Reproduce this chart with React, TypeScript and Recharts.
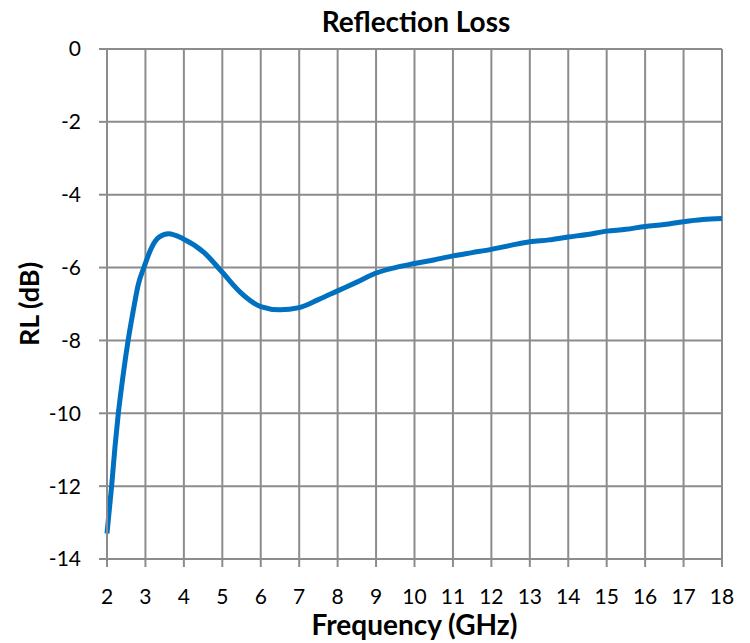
import { LineChart, Line, XAxis, YAxis, CartesianGrid, Label } from "recharts";

// Frequency (GHz) and reflection loss (dB)
const freq = [2.0, 2.12, 2.21, 2.29, 2.42, 2.55, 2.68, 2.81, 2.97, 3.16, 3.35, 3.6, 4.0, 4.52, 5.0, 5.47, 6.0, 6.5, 7.0, 7.5, 8.0, 8.5, 9.0, 9.5, 10.0, 10.5, 11.0, 11.5, 12.0, 12.5, 13.0, 13.5, 14.0, 14.5, 15.0, 15.5, 16.0, 16.5, 17.0, 17.5, 18.0];
const rl = [-13.3, -12.0, -10.9, -10.05, -8.95, -8.0, -7.2, -6.48, -5.97, -5.45, -5.17, -5.07, -5.22, -5.58, -6.13, -6.68, -7.07, -7.16, -7.1, -6.88, -6.64, -6.4, -6.15, -6.0, -5.89, -5.79, -5.68, -5.59, -5.5, -5.39, -5.29, -5.24, -5.16, -5.09, -5.0, -4.95, -4.87, -4.82, -4.74, -4.68, -4.65];

const xTicks = [2, 3, 4, 5, 6, 7, 8, 9, 10, 11, 12, 13, 14, 15, 16, 17, 18];
const yTicks = [0, -2, -4, -6, -8, -10, -12, -14];

const data = freq.map((f, i) => ({ f, rl: rl[i] }));

const font = "Lato, 'Open Sans', sans-serif";
const gridColor = "#8c8c8c";

export default function App() {
  return (
    <div style={{ position: "absolute", left: 0, top: 0, width: 750, height: 643, background: "#fff", fontFamily: font }}>
      <div style={{ position: "absolute", left: 0, width: 832, top: 7, lineHeight: "29px", textAlign: "center", fontWeight: "bold", fontSize: 28, color: "#000" }}>
        Reflection Loss
      </div>
      <LineChart
        width={750}
        height={643}
        data={data}
        margin={{ top: 49, right: 28, left: 47, bottom: 44 }}
      >
        <CartesianGrid stroke={gridColor} strokeWidth={2} />
        <XAxis
          dataKey="f"
          type="number"
          domain={[2, 18]}
          ticks={xTicks}
          interval={0}
          height={40}
          stroke={gridColor}
          strokeWidth={2}
          tickSize={8}
          tickMargin={22}
          tick={{ fill: "#000", fontSize: 21, fontFamily: font }}
        >
          <Label
            value="Frequency (GHz)"
            position="insideBottom"
            offset={-36}
            style={{ fill: "#000", fontSize: 28, fontWeight: "bold", fontFamily: font }}
          />
        </XAxis>
        <YAxis
          type="number"
          domain={[-14, 0]}
          ticks={yTicks}
          interval={0}
          width={60}
          stroke={gridColor}
          strokeWidth={2}
          tickSize={8}
          tickMargin={18}
          tick={{ fill: "#000", fontSize: 21, fontFamily: font }}
        >
          <Label
            value="RL (dB)"
            angle={-90}
            position="insideLeft"
            offset={-18}
            style={{ textAnchor: "middle", fill: "#000", fontSize: 27, fontWeight: "bold", fontFamily: font }}
          />
        </YAxis>
        <Line
          type="monotone"
          dataKey="rl"
          stroke="#0070c0"
          strokeWidth={5}
          dot={false}
          isAnimationActive={false}
        />
      </LineChart>
    </div>
  );
}
